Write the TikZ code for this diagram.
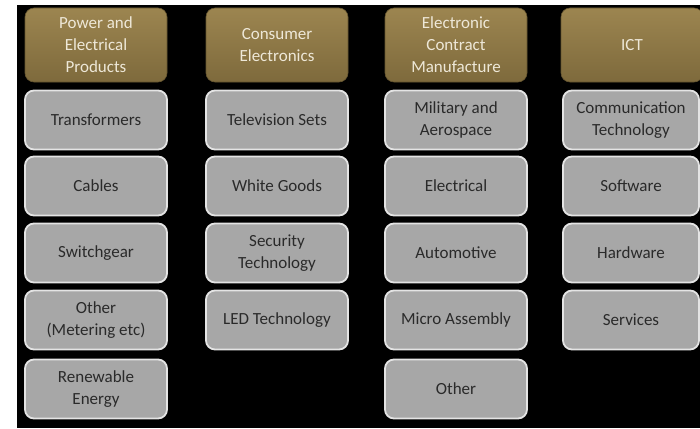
\documentclass[tikz,border=0pt]{standalone}
\usepackage{fontspec}
\setmainfont{Carlito}
\begin{document}
\begin{tikzpicture}[x=1pt,y=-1pt,
  head/.style={rounded corners=9pt, minimum width=142pt, minimum height=74pt,
    top color=goldtop, bottom color=goldbot, draw=goldbot!80!black, line width=0.6pt,
    text=headtext, align=center, font=\fontsize{17}{22}\selectfont, inner sep=0pt},
  item/.style={rounded corners=9pt, minimum width=142pt, minimum height=59pt,
    fill=itemfill, draw=itemedge, line width=1.8pt,
    text=itemtext, align=center, font=\fontsize{17}{22}\selectfont, inner sep=0pt}]
\definecolor{goldtop}{HTML}{9C8550}
\definecolor{goldbot}{HTML}{7E6A3C}
\definecolor{headtext}{HTML}{EEE8D8}
\definecolor{itemfill}{HTML}{A7A7A7}
\definecolor{itemedge}{HTML}{E4E4E4}
\definecolor{itemtext}{HTML}{2A2A2A}
% canvas
\useasboundingbox (0,0) rectangle (700,428);
\fill[white] (0,0) rectangle (700,428);
\fill[black] (17,5) rectangle (700,428);
\begin{scope}
\clip (17,5) rectangle (700,428);
% column headers
\node[head] (h1) at (96,45)  {Power and\\Electrical\\Products};
\node[head] (h2) at (277,45) {Consumer\\Electronics};
\node[head] (h3) at (456,45) {Electronic\\Contract\\Manufacture};
\node[head] (h4) at (632,45) {ICT};
% power and electrical products
\node[item] (a1) at (96,120) {Transformers};
\node[item] (a2) at (96,186) {Cables};
\node[item] (a3) at (96,253) {Switchgear};
\node[item] (a4) at (96,320) {Other\\(Metering etc)};
\node[item] (a5) at (96,389) {Renewable\\Energy};
% consumer electronics
\node[item] (b1) at (277,120) {Television Sets};
\node[item] (b2) at (277,186) {White Goods};
\node[item] (b3) at (277,253) {Security\\Technology};
\node[item] (b4) at (277,320) {LED Technology};
% electronic contract manufacture
\node[item] (c1) at (456,120) {Military and\\Aerospace};
\node[item] (c2) at (456,186) {Electrical};
\node[item] (c3) at (456,253) {Automotive};
\node[item] (c4) at (456,320) {Micro Assembly};
\node[item] (c5) at (456,389) {Other};
% ICT
\node[item, minimum width=136pt] (d1) at (631,120) {Communication\\Technology};
\node[item, minimum width=136pt] (d2) at (631,186) {Software};
\node[item, minimum width=136pt] (d3) at (631,253) {Hardware};
\node[item, minimum width=136pt] (d4) at (631,320) {Services};
\end{scope}
\end{tikzpicture}
\end{document}
